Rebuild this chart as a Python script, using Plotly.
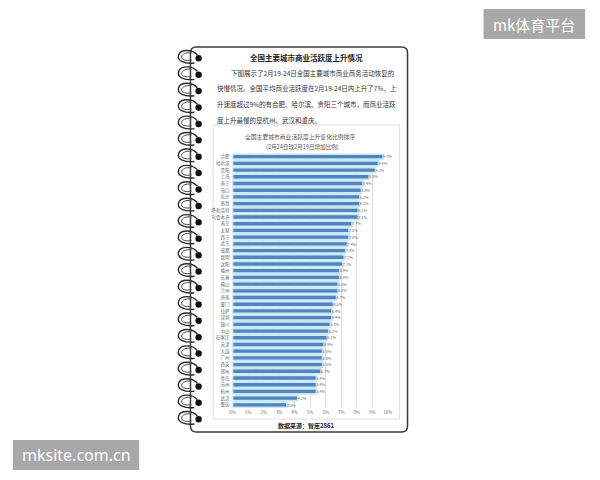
import plotly.graph_objects as go

W, H = 600, 480

cities = ["合肥", "哈尔滨", "贵阳", "上海", "南宁", "海口", "长沙", "南昌", "呼和浩特", "乌鲁木齐",
          "南京", "太原", "西宁", "北京", "成都", "昆明", "沈阳", "福州", "长春", "佛山",
          "兰州", "济南", "厦门", "拉萨", "深圳", "银川", "中山", "石家庄", "天津", "大连",
          "广州", "西安", "郑州", "青岛", "苏州", "杭州", "武汉", "重庆"]
values = [9.7, 9.4, 9.2, 8.8, 8.4, 8.3, 8.2, 8.2, 8.1, 8.1,
          7.7, 7.5, 7.5, 7.4, 7.3, 7.2, 7.1, 6.9, 6.9, 6.8,
          6.8, 6.7, 6.5, 6.4, 6.4, 6.3, 6.2, 6.1, 5.9, 5.8,
          5.8, 5.8, 5.7, 5.4, 5.4, 5.4, 4.2, 3.5]
x_ticks = list(range(0, 11))
x_tick_labels = [f"{t}%" for t in x_ticks]

title_text = "全国主要城市商业活跃度上升情况"
para_lines = ["下图展示了2月19-24日全国主要城市商业商务活动恢复的",
              "快慢情况。全国平均商业活跃度在2月19-24日内上升了7%，上",
              "升速度超过9%的有合肥、哈尔滨、贵阳三个城市，而商业活跃",
              "度上升最慢的是杭州、武汉和重庆。"]
chart_title = "全国主要城市商业活跃度上升变化比例排序"
chart_sub = "(2月24日较2月19日增加比例)"
source_text = "数据来源：智库2861"

CJK = "Noto Sans CJK SC"


def X(px):
    return px / W


def Y(py):
    return 1 - py / H


fig = go.Figure()
fig.add_trace(go.Bar(
    x=values, y=cities, orientation="h",
    marker=dict(color="#5086bd", line=dict(color="#c8e6f5", width=1.6)),
    width=0.74,
    text=[f"{v:.1f}%" for v in values], textposition="outside",
    textfont=dict(size=4.5, color="#666666", family=CJK),
    cliponaxis=False, hoverinfo="skip",
))

shapes = []


def rrect(x0, y0, x1, y1, r):
    return (f"M {X(x0+r)},{Y(y0)} L {X(x1-r)},{Y(y0)} Q {X(x1)},{Y(y0)} {X(x1)},{Y(y0+r)} "
            f"L {X(x1)},{Y(y1-r)} Q {X(x1)},{Y(y1)} {X(x1-r)},{Y(y1)} "
            f"L {X(x0+r)},{Y(y1)} Q {X(x0)},{Y(y1)} {X(x0)},{Y(y1-r)} "
            f"L {X(x0)},{Y(y0+r)} Q {X(x0)},{Y(y0)} {X(x0+r)},{Y(y0)} Z")


# notebook page
shapes.append(dict(type="path", xref="paper", yref="paper", layer="below",
                   path=rrect(190, 47, 410, 432, 6),
                   line=dict(color="#3c3c3c", width=1.5), fillcolor="white"))
# chart panel
shapes.append(dict(type="rect", xref="paper", yref="paper", layer="below",
                   x0=X(213), x1=X(402), y0=Y(125), y1=Y(419),
                   line=dict(color="#e0e0e0", width=1), fillcolor="white"))

# spiral rings
n_rings = 23
for i in range(n_rings):
    c = 57 + i * (418 - 57) / (n_rings - 1)
    shapes.append(dict(type="path", xref="paper", yref="paper",
                       path=(f"M {X(197)},{Y(c-2)} C {X(192)},{Y(c-8)} {X(180)},{Y(c-8)} {X(178)},{Y(c-2)} "
                             f"C {X(176)},{Y(c+4)} {X(184)},{Y(c+7)} {X(194)},{Y(c+6)}"),
                       line=dict(color="#2b2b2b", width=1.4)))
    shapes.append(dict(type="path", xref="paper", yref="paper",
                       path=(f"M {X(191)},{Y(c-4)} C {X(186)},{Y(c-5)} {X(181)},{Y(c-3)} {X(181)},{Y(c)} "
                             f"C {X(181)},{Y(c+3)} {X(186)},{Y(c+4)} {X(191)},{Y(c+3)}"),
                       line=dict(color="#444444", width=1.0)))
    shapes.append(dict(type="circle", xref="paper", yref="paper",
                       x0=X(195), x1=X(201.5), y0=Y(c-2), y1=Y(c+4.5),
                       fillcolor="#111111", line=dict(width=0)))

# watermark boxes
shapes.append(dict(type="rect", xref="paper", yref="paper",
                   x0=X(487), x1=X(590), y0=Y(9), y1=Y(39),
                   fillcolor="#a8a8a8", line=dict(width=0)))
shapes.append(dict(type="rect", xref="paper", yref="paper",
                   x0=X(10), x1=X(138), y0=Y(440), y1=Y(470),
                   fillcolor="#a8a8a8", line=dict(width=0)))

ann = []
ann.append(dict(text=f"<b>{title_text}</b>", x=X(308), y=Y(57), xref="paper", yref="paper",
                showarrow=False, xanchor="center", yanchor="middle",
                font=dict(size=7.5, color="#222222", family=CJK)))
para_x = [229, 215, 215, 215]
para_y = [73, 88.5, 104, 119.5]
for t, px, py in zip(para_lines, para_x, para_y):
    ann.append(dict(text=t, x=X(px), y=Y(py), xref="paper", yref="paper",
                    showarrow=False, xanchor="left", yanchor="middle",
                    font=dict(size=6.5, color="#333333", family=CJK)))
ann.append(dict(text=chart_title, x=X(301), y=Y(136), xref="paper", yref="paper",
                showarrow=False, xanchor="center", yanchor="middle",
                font=dict(size=5.8, color="#555555", family=CJK)))
ann.append(dict(text=chart_sub, x=X(304), y=Y(146.5), xref="paper", yref="paper",
                showarrow=False, xanchor="center", yanchor="middle",
                font=dict(size=5.6, color="#555555", family=CJK)))
ann.append(dict(text=f"<b>{source_text}</b>", x=X(308), y=Y(425.5), xref="paper", yref="paper",
                showarrow=False, xanchor="center", yanchor="middle",
                font=dict(size=6, color="#222222", family=CJK)))
ann.append(dict(text="mk体育平台", x=X(538.5), y=Y(24), xref="paper", yref="paper",
                showarrow=False, xanchor="center", yanchor="middle",
                font=dict(size=15, color="white", family=CJK)))
ann.append(dict(text="mksite.com.cn", x=X(74), y=Y(455), xref="paper", yref="paper",
                showarrow=False, xanchor="center", yanchor="middle",
                font=dict(size=16, color="white", family="Noto Sans")))

fig.update_layout(
    width=W, height=H, margin=dict(l=0, r=0, t=0, b=0),
    paper_bgcolor="white", plot_bgcolor="rgba(0,0,0,0)",
    showlegend=False, shapes=shapes, annotations=ann,
    xaxis=dict(domain=[X(232.7), X(390)], range=[0, 10], tickvals=x_ticks, ticktext=x_tick_labels,
               showgrid=True, gridcolor="#dcdcdc", gridwidth=0.8, zeroline=False,
               showline=False, ticks="", tickfont=dict(size=4.5, color="#777777", family=CJK),
               fixedrange=True),
    yaxis=dict(domain=[Y(408.2), Y(153.3)], autorange="reversed", showgrid=False,
               showline=False, ticks="", ticklabelstandoff=2,
               tickfont=dict(size=4.5, color="#666666", family=CJK), fixedrange=True),
    bargap=0.2,
)

fig.write_html("out.html")
